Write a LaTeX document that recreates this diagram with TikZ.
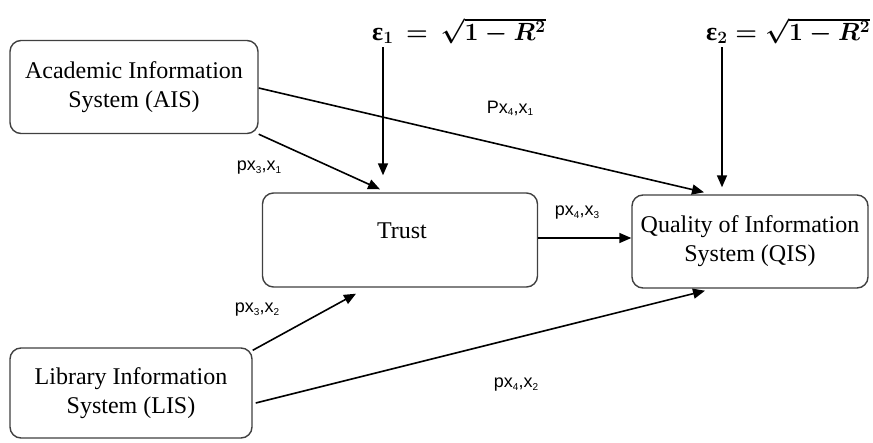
\documentclass[tikz,border=0pt]{standalone}
\usepackage{fontspec}
\setmainfont{Liberation Serif}
\newfontfamily\labfont{Liberation Sans}
\newfontfamily\grkfont{Liberation Serif}
\usetikzlibrary{arrows.meta,calc}
\newcommand{\smsub}[1]{\raisebox{-0.25ex}{\fontsize{10}{10}\selectfont #1}}
\newcommand{\plab}[3]{{\labfont #1x\smsub{#2},x\smsub{#3}}}
\begin{document}
\begin{tikzpicture}[x=1pt,y=-1pt,
  box/.style={draw=black!75, line width=1.4pt, rounded corners=11pt, align=center,
    font=\fontsize{24}{29}\selectfont, inner sep=0pt},
  txt/.style={font=\fontsize{24}{29}\selectfont, inner sep=0pt},
  lab/.style={font=\fontsize{18}{20}\selectfont, inner sep=0pt},
  eq/.style={font=\fontsize{26}{28}\selectfont\boldmath, inner sep=0pt, anchor=base west},
  arr/.style={-{Triangle[length=12pt,width=10pt]}, line width=1.6pt, draw=black}]
\useasboundingbox[fill=white] (0,0) rectangle (873,442);

\node[box, minimum width=248pt, minimum height=93pt] (ais) at (134,87) {Academic Information\\System (AIS)};
\node[box, minimum width=275pt, minimum height=94pt] (trust) at (400,240) {};
\node[txt] (trusttxt) at (402,231) {Trust};
\node[box, minimum width=236pt, minimum height=93pt] (qis) at (750,241.5) {Quality of Information\\System (QIS)};
\node[box, minimum width=242pt, minimum height=90pt] (lis) at (131,393) {Library Information\\System (LIS)};

\node[eq] (eps1) at (372,40) {{\grkfont\bfseries ε}$_1\,=\,\sqrt{1-R^2}$};
\node[eq] (eps2) at (706,40) {{\grkfont\bfseries ε}$_2=\sqrt{1-R^2}$};

\coordinate (e1) at (383,47);
\coordinate (e2) at (722,47);

\draw[arr] (e1) -- ([xshift=-17pt,yshift=17pt]trust.north);
\draw[arr] (e2) -- ([xshift=-28pt,yshift=7pt]qis.north);
\draw[arr] ([yshift=-1pt]ais.east) -- ([xshift=-46pt,yshift=2pt]qis.north);
\draw[arr] (ais.south east) -- ([xshift=-20pt,yshift=3pt]trust.north);
\draw[arr] ([yshift=2pt]trust.east) -- ([yshift=3.5pt]qis.west);
\draw[arr] ([yshift=-3pt]lis.north east) -- ([xshift=-44pt,yshift=-6pt]trust.south);
\draw[arr] ([xshift=3pt,yshift=-10pt]lis.east) -- ([xshift=-45pt,yshift=-2pt]qis.south);

\node[lab] (l41) at (510,108) {\plab{P}{4}{1}};
\node[lab] (l31) at (259,168) {\plab{p}{3}{1}};
\node[lab] (l43) at (577,213) {\plab{p}{4}{3}};
\node[lab] (l32) at (257,310) {\plab{p}{3}{2}};
\node[lab] (l42) at (516,385) {\plab{p}{4}{2}};
\end{tikzpicture}
\end{document}
